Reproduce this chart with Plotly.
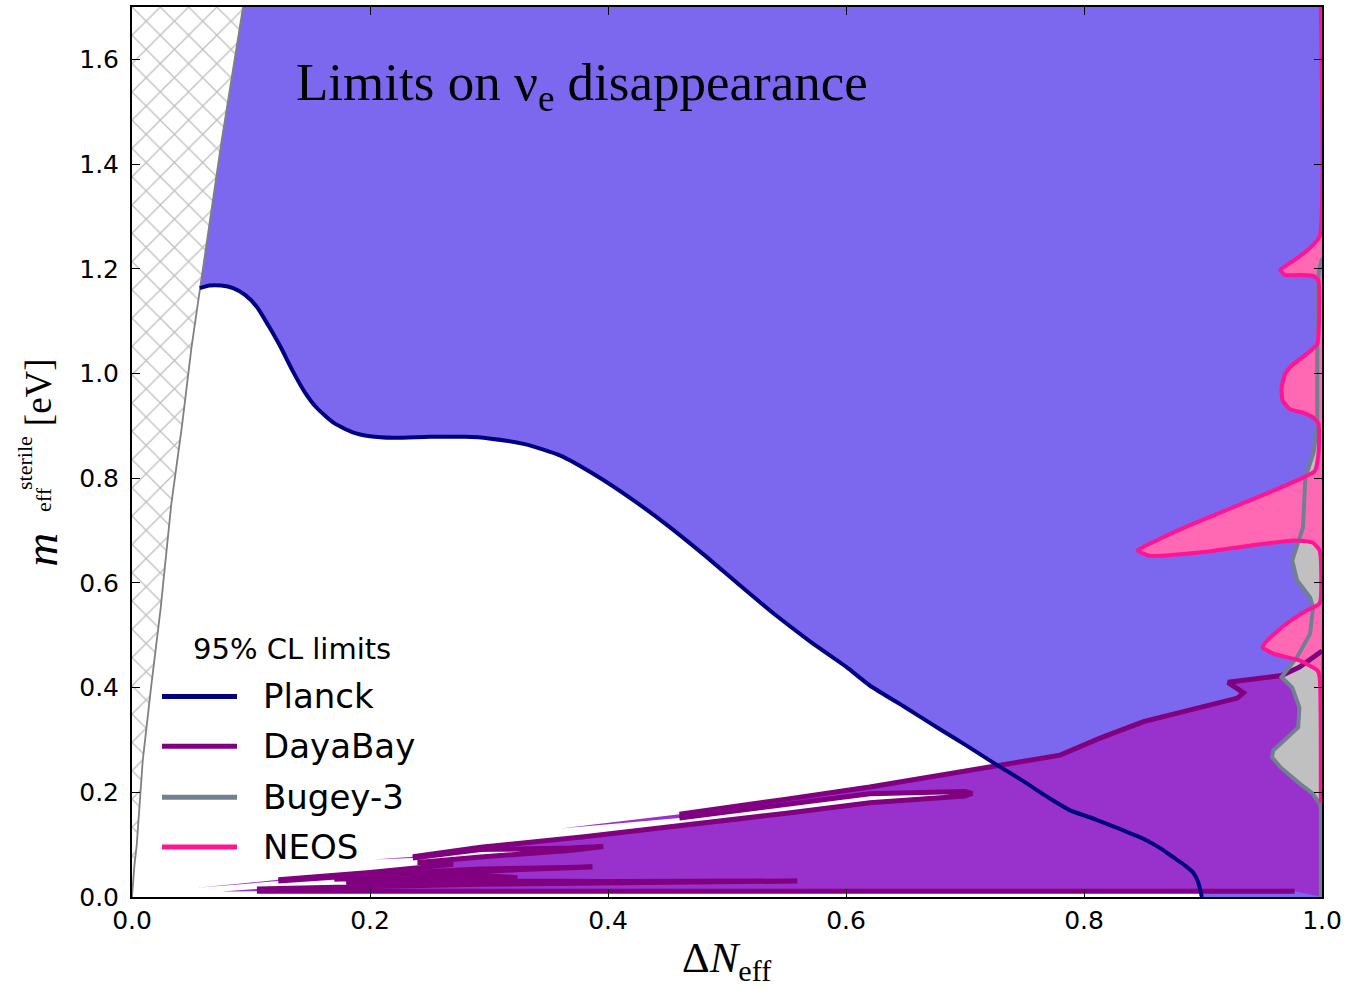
import plotly.graph_objects as go

# ---------------- axes ----------------
x_range = [0.0, 1.0]
y_range = [0.0, 1.7]
x_tick_vals = [0.0, 0.2, 0.4, 0.6, 0.8, 1.0]
x_tick_text = ["0.0", "0.2", "0.4", "0.6", "0.8", "1.0"]
y_tick_vals = [0.0, 0.2, 0.4, 0.6, 0.8, 1.0, 1.2, 1.4, 1.6]
y_tick_text = ["0.0", "0.2", "0.4", "0.6", "0.8", "1.0", "1.2", "1.4", "1.6"]

# ---------------- unphysical corner (m_sterile > 10 eV) ----------------
edge_x = [0.0, 0.002, 0.004, 0.009, 0.016, 0.024, 0.033, 0.042, 0.050, 0.057, 0.066, 0.075, 0.084, 0.0933]
edge_y = [0.0, 0.06, 0.10, 0.26, 0.40, 0.55, 0.75, 0.90, 1.05, 1.163, 1.30, 1.44, 1.57, 1.70]

# ---------------- Planck 95% CL contour ----------------
planck_x = [0.057, 0.065, 0.075, 0.085, 0.095, 0.105, 0.115, 0.125, 0.135, 0.145, 0.155,
            0.170, 0.185, 0.200, 0.220, 0.250, 0.280, 0.300, 0.330, 0.360, 0.390, 0.420,
            0.450, 0.480, 0.510, 0.540, 0.570, 0.600, 0.620, 0.650, 0.680, 0.700, 0.727,
            0.750, 0.770, 0.788, 0.810, 0.830, 0.852, 0.865, 0.875, 0.885, 0.892, 0.896,
            0.898, 0.899]
planck_y = [1.163, 1.168, 1.168, 1.163, 1.150, 1.127, 1.090, 1.050, 1.005, 0.965, 0.935,
            0.905, 0.888, 0.880, 0.877, 0.879, 0.879, 0.876, 0.865, 0.843, 0.805, 0.760,
            0.710, 0.655, 0.597, 0.540, 0.488, 0.440, 0.404, 0.362, 0.319, 0.291, 0.252,
            0.220, 0.190, 0.166, 0.148, 0.130, 0.109, 0.092, 0.076, 0.060, 0.046, 0.028,
            0.010, 0.000]

# ---------------- DayaBay 95% CL region (boundary pieces, in order) ----------------
# outer upper edge
daya_upper_x = [1.000, 0.981, 0.966, 0.921, 0.934, 0.929, 0.850, 0.813, 0.780, 0.700, 0.620, 0.550, 0.460]
daya_upper_y = [0.470, 0.439, 0.423, 0.410, 0.390, 0.380, 0.335, 0.303, 0.271, 0.241, 0.210, 0.187, 0.158]
daya_tail1_x = [0.360]
daya_tail1_y = [0.131]
# upper finger (white slit) and lower edge down to its left tooth
daya_slit_x = [0.460, 0.550, 0.620, 0.700, 0.706, 0.700, 0.620, 0.550, 0.460, 0.380, 0.293, 0.236]
daya_slit_y = [0.151, 0.176, 0.197, 0.2015, 0.198, 0.193, 0.180, 0.160, 0.135, 0.115, 0.095, 0.077]
daya_tail2_x = [0.203]
daya_tail2_y = [0.0715]
# comb of thin teeth converging to the lower left
daya_comb1_x = [0.236, 0.293, 0.368, 0.396, 0.368, 0.330, 0.293, 0.240, 0.270, 0.200, 0.123]
daya_comb1_y = [0.0745, 0.0905, 0.0935, 0.0965, 0.0890, 0.0830, 0.0765, 0.0660, 0.0625, 0.0470, 0.0330]
daya_tail3_x = [0.055]
daya_tail3_y = [0.0175]
daya_comb2_x = [0.123, 0.200, 0.293, 0.326, 0.387, 0.326, 0.293, 0.220, 0.170, 0.220, 0.293,
                0.324, 0.293, 0.220, 0.180, 0.293, 0.400, 0.559, 0.450, 0.293, 0.200, 0.105]
daya_comb2_y = [0.0305, 0.0425, 0.0535, 0.0550, 0.0575, 0.0525, 0.0490, 0.0400, 0.0340, 0.0375, 0.0410,
                0.0370, 0.0360, 0.0310, 0.0270, 0.0310, 0.0295, 0.0305, 0.0285, 0.0245, 0.0200, 0.0155]
daya_tail4_x = [0.075]
daya_tail4_y = [0.0105]
daya_bottom_x = [0.105, 0.977]
daya_bottom_y = [0.0110, 0.0110]
daya_corner_x = [0.990, 1.000]
daya_corner_y = [0.0050, 0.0000]

# ---------------- Bugey-3 95% CL contour ----------------
bugey_x = [1.000, 0.997, 0.996, 0.996, 0.996, 0.993, 0.986, 0.984, 0.980, 0.975, 0.979,
           0.990, 0.9925, 0.990, 0.979, 0.966, 0.975, 0.981, 0.980, 0.969, 0.959, 0.958,
           0.965, 0.981, 0.992, 0.998, 0.999, 0.999]
bugey_y = [1.220, 1.190, 1.100, 1.000, 0.900, 0.850, 0.800, 0.706, 0.675, 0.643, 0.605,
           0.572, 0.553, 0.503, 0.458, 0.420, 0.400, 0.362, 0.324, 0.300, 0.280, 0.267,
           0.248, 0.217, 0.198, 0.179, 0.170, 0.000]

# ---------------- NEOS 95% CL contour ----------------
neos_x = [0.999, 0.998, 0.990, 0.979, 0.969, 0.965, 0.969, 0.981, 0.993, 0.997, 0.997,
          0.996, 0.987, 0.976, 0.969, 0.966, 0.967, 0.973, 0.984, 0.993, 0.997, 0.997,
          0.994, 0.984, 0.959, 0.925, 0.892, 0.861, 0.845, 0.855, 0.897, 0.939, 0.976,
          0.992, 0.998, 0.998, 0.987, 0.970, 0.954, 0.950, 0.959, 0.981, 0.996, 0.998,
          0.999]
neos_y = [1.700, 1.262, 1.240, 1.220, 1.205, 1.198, 1.188, 1.188, 1.186, 1.177, 1.075,
          1.056, 1.037, 1.018, 0.999, 0.973, 0.948, 0.932, 0.925, 0.915, 0.904, 0.847,
          0.814, 0.801, 0.776, 0.744, 0.713, 0.681, 0.662, 0.652, 0.658, 0.671, 0.681,
          0.677, 0.662, 0.561, 0.547, 0.522, 0.490, 0.477, 0.465, 0.452, 0.433, 0.420,
          0.180]

# ---------------- colours ----------------
C_PLANCK_FILL = "#7B68EE"
C_PLANCK_LINE = "#000080"
C_DAYA_FILL = "#9932CC"
C_DAYA_LINE = "#800080"
C_BUGEY_FILL = "#C0C0C0"
C_BUGEY_LINE = "#708090"
C_NEOS_FILL = "#FF69B4"
C_NEOS_LINE = "#FF1493"
C_EDGE = "#808080"

fig = go.Figure()

# hatched corner
fig.add_trace(go.Scatter(
    x=edge_x + [0.0], y=edge_y + [1.7], fill="toself", mode="none",
    fillcolor="white",
    fillpattern=dict(shape="x", size=20, solidity=0.13, fgcolor=C_EDGE, bgcolor="white"),
    hoverinfo="skip", showlegend=False))

# Planck excluded region: above the contour, right of the corner
planck_fill_x = edge_x[9:] + [1.0, 1.0] + planck_x[::-1]
planck_fill_y = edge_y[9:] + [1.7, 0.0] + planck_y[::-1]
fig.add_trace(go.Scatter(x=planck_fill_x, y=planck_fill_y, fill="toself", mode="none",
                         fillcolor=C_PLANCK_FILL, hoverinfo="skip", showlegend=False))

# DayaBay region
daya_fill_x = (daya_upper_x + daya_tail1_x + daya_slit_x + daya_tail2_x + daya_comb1_x
               + daya_tail3_x + daya_comb2_x + daya_tail4_x + daya_bottom_x + daya_corner_x)
daya_fill_y = (daya_upper_y + daya_tail1_y + daya_slit_y + daya_tail2_y + daya_comb1_y
               + daya_tail3_y + daya_comb2_y + daya_tail4_y + daya_bottom_y + daya_corner_y)
fig.add_trace(go.Scatter(x=daya_fill_x, y=daya_fill_y, fill="toself", mode="none",
                         fillcolor=C_DAYA_FILL, hoverinfo="skip", showlegend=False))

# Bugey-3 region
fig.add_trace(go.Scatter(x=bugey_x + [1.0], y=bugey_y + [1.22], fill="toself", mode="none",
                         fillcolor=C_BUGEY_FILL, hoverinfo="skip", showlegend=False))

# NEOS region
fig.add_trace(go.Scatter(x=neos_x[1:] + [1.0], y=neos_y[1:] + [1.262], fill="toself", mode="none",
                         fillcolor=C_NEOS_FILL, hoverinfo="skip", showlegend=False))

# DayaBay contour lines (the thin tails are fill only)
daya_line_x = (daya_upper_x + [None] + daya_slit_x + [None] + daya_comb1_x + [None]
               + daya_comb2_x + [None] + daya_bottom_x)
daya_line_y = (daya_upper_y + [None] + daya_slit_y + [None] + daya_comb1_y + [None]
               + daya_comb2_y + [None] + daya_bottom_y)
fig.add_trace(go.Scatter(x=daya_line_x, y=daya_line_y, mode="lines",
                         line=dict(color=C_DAYA_LINE, width=5), connectgaps=False,
                         hoverinfo="skip", showlegend=False))

fig.add_trace(go.Scatter(x=bugey_x, y=bugey_y, mode="lines",
                         line=dict(color=C_BUGEY_LINE, width=4),
                         hoverinfo="skip", showlegend=False))
fig.add_trace(go.Scatter(x=neos_x, y=neos_y, mode="lines",
                         line=dict(color=C_NEOS_LINE, width=4, shape="spline", smoothing=0.5),
                         hoverinfo="skip", showlegend=False))

# edge of the hatched corner
fig.add_trace(go.Scatter(x=edge_x, y=edge_y, mode="lines",
                         line=dict(color=C_EDGE, width=1.8),
                         hoverinfo="skip", showlegend=False))

# Planck contour
fig.add_trace(go.Scatter(x=planck_x, y=planck_y, mode="lines",
                         line=dict(color=C_PLANCK_LINE, width=4, shape="spline", smoothing=0.6),
                         hoverinfo="skip", showlegend=False))

# ---------------- text ----------------
SERIF = "Liberation Serif"
SANS = "DejaVu Sans"
annotations = [
    dict(x=0.136, y=1.55, xref="x", yref="y", xanchor="left", yanchor="middle",
         text="Limits on ν<sub>e</sub> disappearance", showarrow=False,
         font=dict(family=SERIF, size=53, color="black")),
    # x-axis title
    dict(x=(727 - 132) / 1190, y=(897 - 961) / 892, xref="paper", yref="paper",
         xanchor="center", yanchor="middle", text="Δ<i>N</i><sub>eff</sub>", showarrow=False,
         font=dict(family=SERIF, size=43, color="black")),
    # y-axis title pieces
    dict(x=(41 - 132) / 1190, y=(897 - 549) / 892, xref="paper", yref="paper",
         xanchor="center", yanchor="middle", text="<i>m</i>", textangle=-90, showarrow=False,
         font=dict(family=SERIF, size=47, color="black")),
    dict(x=(25 - 132) / 1190, y=(897 - 462) / 892, xref="paper", yref="paper",
         xanchor="center", yanchor="middle", text="sterile", textangle=-90, showarrow=False,
         font=dict(family=SERIF, size=22, color="black")),
    dict(x=(44 - 132) / 1190, y=(897 - 499) / 892, xref="paper", yref="paper",
         xanchor="center", yanchor="middle", text="eff", textangle=-90, showarrow=False,
         font=dict(family=SERIF, size=22, color="black")),
    dict(x=(38 - 132) / 1190, y=(897 - 391) / 892, xref="paper", yref="paper",
         xanchor="center", yanchor="middle", text="[eV]", textangle=-90, showarrow=False,
         font=dict(family=SERIF, size=37, color="black")),
]

# legend
legend_names = ["Planck", "DayaBay", "Bugey-3", "NEOS"]
legend_colors = [C_PLANCK_LINE, C_DAYA_LINE, C_BUGEY_LINE, C_NEOS_LINE]
legend_rows_px = [696, 746, 797, 847]
annotations.append(dict(x=(191 - 132) / 1190, y=(897 - 648) / 892, xref="paper", yref="paper",
                        xanchor="left", yanchor="middle", text="95% CL limits", showarrow=False,
                        font=dict(family=SANS, size=29, color="black")))
shapes = []
for name, col, row in zip(legend_names, legend_colors, legend_rows_px):
    yp = (897 - row) / 892
    annotations.append(dict(x=(261 - 132) / 1190, y=yp, xref="paper", yref="paper",
                            xanchor="left", yanchor="middle", text=name, showarrow=False,
                            font=dict(family=SANS, size=34, color="black")))
    shapes.append(dict(type="line", xref="paper", yref="paper",
                       x0=(162 - 132) / 1190, x1=(237 - 132) / 1190, y0=yp, y1=yp,
                       line=dict(color=col, width=5)))

axis_common = dict(showgrid=False, zeroline=False, showline=True, linecolor="black",
                   linewidth=2, mirror="ticks", ticks="inside", ticklen=8, tickwidth=1,
                   tickcolor="black", tickfont=dict(family=SANS, size=25, color="black"))

fig.update_layout(
    width=1350, height=991,
    margin=dict(l=132, r=28, t=5, b=94),
    paper_bgcolor="white", plot_bgcolor="white",
    xaxis=dict(range=x_range, tickvals=x_tick_vals, ticktext=x_tick_text, **axis_common),
    yaxis=dict(range=y_range, tickvals=y_tick_vals, ticktext=y_tick_text,
               ticklabelstandoff=6, **axis_common),
    annotations=annotations, shapes=shapes, showlegend=False,
)

fig.write_html("out.html")
